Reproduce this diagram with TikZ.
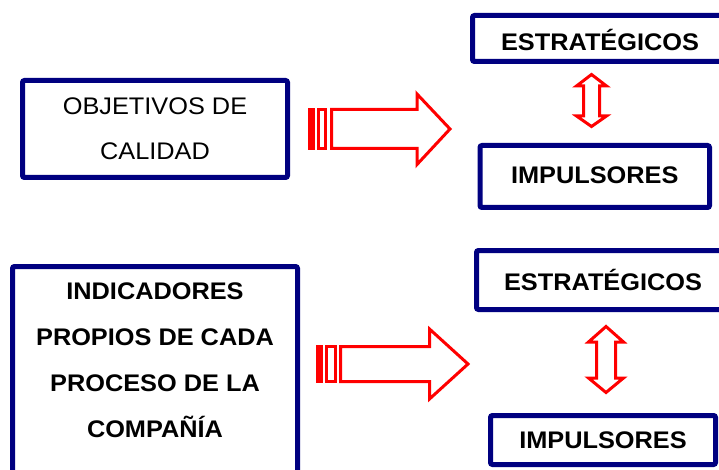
\documentclass[tikz,border=0pt]{standalone}
\usepackage{fontspec}
\setmainfont[FakeStretch=1.055]{Liberation Sans}
\definecolor{navyblue}{RGB}{0,0,128}
\begin{document}
\begin{tikzpicture}[x=1pt,y=-1pt,
  box/.style={draw=navyblue, line width=5pt, rounded corners=2pt, inner sep=0pt, align=center,
    font=\fontsize{24}{45}\selectfont},
  boldbox/.style={box, font=\fontsize{24}{46}\selectfont\bfseries},
  arrowline/.style={draw=red, line width=3pt, line join=miter, fill=white},
  redbar/.style={fill=red}]
\useasboundingbox (0,0) rectangle (719,470);

% left boxes
\node[box, minimum width=265pt, minimum height=97pt] (obj) at (155,129) {OBJETIVOS DE\\CALIDAD};
\node[boldbox, minimum width=285pt, minimum height=253.5pt] (ind) at (155,393.25)
  {\begin{minipage}[c][253.5pt][t]{285pt}\centering\fontsize{24}{46}\selectfont\bfseries
   \vspace*{16.5pt}INDICADORES\\PROPIOS DE CADA\\PROCESO DE LA\\COMPAÑÍA\end{minipage}};

% right boxes
\node[boldbox, minimum width=255pt, minimum height=46pt, text height=23.6pt, text depth=0pt] (est1) at (600,38.5) {ESTRATÉGICOS};
\node[boldbox, minimum width=229.5pt, minimum height=62pt, text height=17.2pt, text depth=3pt] (imp1) at (594.75,176.5) {IMPULSORES};
\node[boldbox, minimum width=253pt, minimum height=59pt, text height=20.6pt, text depth=0pt] (est2) at (603,280) {ESTRATÉGICOS};
\node[boldbox, minimum width=225pt, minimum height=49pt, text height=17.2pt, text depth=0pt] (imp2) at (603,440) {IMPULSORES};

% top big arrow
\fill[redbar] (308,108) rectangle (315,150);
\draw[arrowline] (318.5,109.5) rectangle (325.5,148.5);
\draw[arrowline] (331.5,109.5) -- (417,109.5) -- (417,94) -- (450,129) -- (417,164.5) -- (417,148.5) -- (331.5,148.5) -- cycle;

% bottom big arrow
\fill[redbar] (316,345) rectangle (323,383);
\draw[arrowline] (326.5,346.5) rectangle (335.5,381.5);
\draw[arrowline] (340.5,346.5) -- (429.5,346.5) -- (429.5,329) -- (468,364) -- (429.5,399) -- (429.5,381.5) -- (340.5,381.5) -- cycle;

% top double arrow
\draw[arrowline] (583.5,86) -- (576.5,86) -- (591.5,74.5) -- (606.5,86) -- (599.5,86)
  -- (599.5,116) -- (606.5,116) -- (591.5,126.5) -- (576.5,116) -- (583.5,116) -- cycle;

% bottom double arrow
\draw[arrowline] (596.5,342) -- (588.5,342) -- (606,326.5) -- (623.5,342) -- (615.5,342)
  -- (615.5,378) -- (623.5,378) -- (606,392.5) -- (588.5,378) -- (596.5,378) -- cycle;
\end{tikzpicture}
\end{document}
